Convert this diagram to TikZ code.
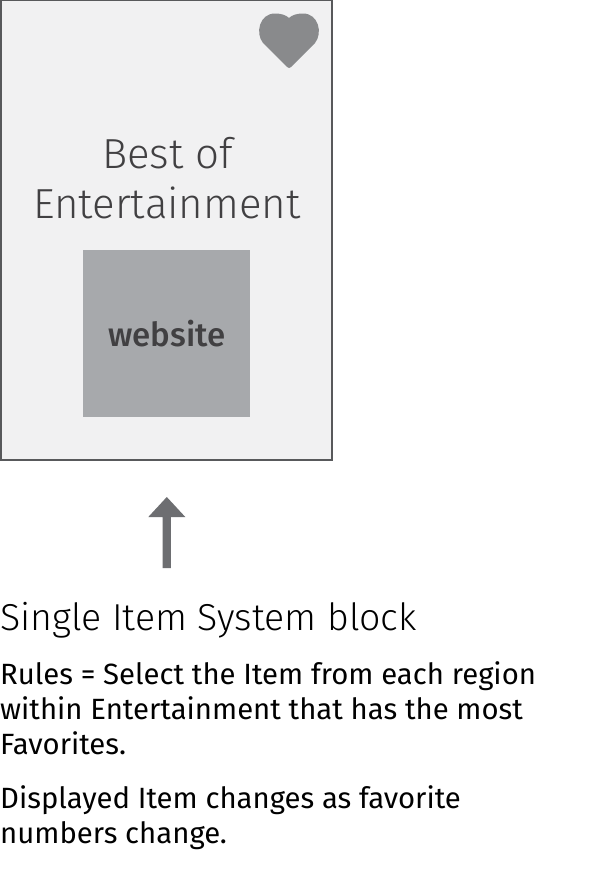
\documentclass[tikz,border=0pt]{standalone}
\usepackage{fontspec}
\setmainfont{Fira Sans}
\newfontfamily\firalight{Fira Sans Light}
\newfontfamily\firamed{Fira Sans Medium}
\definecolor{cardfill}{HTML}{F1F1F2}
\definecolor{cardline}{HTML}{58595B}
\definecolor{boxfill}{HTML}{A7A9AC}
\definecolor{heartc}{HTML}{898A8C}
\definecolor{arrowc}{HTML}{6D6E71}
\definecolor{txt}{HTML}{414042}
\begin{document}
\begin{tikzpicture}[x=1pt,y=-1pt,
  lab/.style={inner sep=0pt,anchor=base west,text=black}]
\useasboundingbox (0,0) rectangle (604,886);
\fill[white] (0,0) rectangle (604,886);
\node[draw=cardline,fill=cardfill,line width=2pt,minimum width=331.6pt,minimum height=459.4pt,inner sep=0pt,anchor=north west] (card) at (-0.2,-0.6) {};
\node[fill=boxfill,minimum width=167pt,minimum height=167pt,inner sep=0pt,anchor=north west] (site) at (83,250) {};
\node[inner sep=0pt,anchor=base,text=txt,font=\firamed\fontsize{33.1}{33.1}\selectfont] (sitet) at (166.8,346) {website};
\node[inner sep=0pt,anchor=base,text=txt,font=\firalight\fontsize{42}{42}\selectfont] (t1) at (167.5,168) {Best of};
\node[inner sep=0pt,anchor=base,text=txt,font=\firalight\fontsize{42}{42}\selectfont] (t2) at (167,218) {Entertainment};
\fill[heartc] (289,68) .. controls (288,68) and (287.5,67.5) .. (287,67) -- (263,43) .. controls (255,33) and (259.5,13.5) .. (275,13.5) .. controls (281,13.5) and (286,15) .. (289,18) .. controls (292,15) and (297,13.5) .. (303,13.5) .. controls (318.5,13.5) and (323,33) .. (315,43) -- (291,67) .. controls (290.5,67.5) and (290,68) .. (289,68) -- cycle;
\fill[arrowc] (162.5,568) -- (162.5,517) -- (148.3,517) -- (166.8,497) -- (185.3,517) -- (170.8,517) -- (170.8,568) -- cycle;
\node[lab,font=\firalight\fontsize{37.5}{37.5}\selectfont] (h) at (0,630) {Single Item System block};
\node[lab,font=\fontsize{29.3}{29.3}\selectfont] (l1) at (0,684) {Rules = Select the Item from each region};
\node[lab,font=\fontsize{29.3}{29.3}\selectfont] (l2) at (0,719) {within Entertainment that has the most};
\node[lab,font=\fontsize{29.3}{29.3}\selectfont] (l3) at (0,754) {Favorites.};
\node[lab,font=\fontsize{29.3}{29.3}\selectfont] (l4) at (0,808) {Displayed Item changes as favorite};
\node[lab,font=\fontsize{29.3}{29.3}\selectfont] (l5) at (0,843) {numbers change.};
\end{tikzpicture}
\end{document}
